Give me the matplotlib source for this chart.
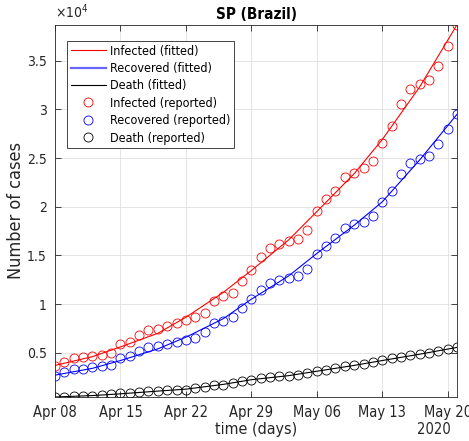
"""
SP (Brazil) - reported vs fitted cases
"""

import numpy as np
import matplotlib
matplotlib.use('Agg')
import matplotlib.pyplot as plt
import matplotlib.dates as mdates
from matplotlib.ticker import FuncFormatter

# daily reported data, Apr 08 .. May 21 2020
dates = np.arange('2020-04-08', '2020-05-22', dtype='datetime64[D]')

infected = [3657, 4070, 4411, 4515, 4618, 4793, 4969, 5897, 6105, 6828,
            7376, 7479, 7755, 8099, 8409, 8688, 9132, 10300, 10785, 11167,
            12407, 13471, 14845, 15713, 16157, 16467, 16643, 17603, 19597, 20773,
            21664, 23044, 23520, 23933, 24698, 26559, 28273, 30515, 32065, 32581,
            33025, 34472, 36538, 38676]
recovered = [2624, 3037, 3313, 3382, 3485, 3623, 3760, 4450, 4657, 5134,
             5547, 5723, 5895, 6060, 6308, 6515, 7166, 8024, 8306, 8650,
             9617, 10547, 11477, 12164, 12509, 12716, 12851, 13643, 15123, 15950,
             16743, 17777, 18222, 18464, 19084, 20464, 21664, 23357, 24494, 24937,
             25175, 26455, 28006, 29555]
death = [455, 455, 523, 558, 593, 627, 730, 833, 903, 1006,
         1074, 1074, 1143, 1178, 1212, 1419, 1522, 1660, 1729, 1867,
         2108, 2246, 2418, 2521, 2590, 2659, 2693, 2934, 3141, 3279,
         3451, 3658, 3761, 3864, 4071, 4243, 4416, 4588, 4760, 4829,
         4932, 5207, 5379, 5551]

# fitted curves
fit_dates = np.array(['2020-04-08', '2020-04-12', '2020-04-15', '2020-04-19', '2020-04-22',
                      '2020-04-26', '2020-04-29', '2020-05-03', '2020-05-06', '2020-05-10',
                      '2020-05-13', '2020-05-17', '2020-05-21'], dtype='datetime64[D]')
infected_fit = [3700, 4600, 5600, 7000, 8650, 11200, 13450, 16600, 19500, 23400, 26900, 32300, 38700]
recovered_fit = [2700, 3400, 4200, 5400, 6600, 8500, 10500, 12900, 15200, 18100, 20500, 24800, 29500]
death_fit = [455, 600, 780, 1060, 1260, 1750, 2230, 2650, 3100, 3700, 4200, 4850, 5550]

tick_dates = np.array(['2020-04-08', '2020-04-15', '2020-04-22', '2020-04-29',
                       '2020-05-06', '2020-05-13', '2020-05-20'], dtype='datetime64[D]')

plt.rcParams['font.family'] = ['DejaVu Sans']
plt.rcParams['font.stretch'] = 'condensed'

fig = plt.figure(figsize=(4.69, 4.41), dpi=100)
ax = fig.add_axes([0.1173, 0.0998, 0.8571, 0.8435])

ax.plot(fit_dates, infected_fit, color='r', linewidth=0.8, label='Infected (fitted)')
ax.plot(fit_dates, recovered_fit, color='b', linewidth=0.8, label='Recovered (fitted)')
ax.plot(fit_dates, death_fit, color='k', linewidth=0.8, label='Death (fitted)')
mk = dict(linestyle='none', marker='o', markersize=6.5, markerfacecolor='none', markeredgewidth=0.6)
ax.plot(dates, infected, markeredgecolor='r', label='Infected (reported)', **mk)
ax.plot(dates, recovered, markeredgecolor='b', label='Recovered (reported)', **mk)
ax.plot(dates, death, markeredgecolor='k', label='Death (reported)', **mk)

ax.set_xlim(dates[0], dates[-1])
ax.set_ylim(min(death), max(infected))

ax.set_xticks(tick_dates)
ax.xaxis.set_major_formatter(mdates.DateFormatter('%b %d'))
ax.set_yticks([5000, 10000, 15000, 20000, 25000, 30000, 35000])
ax.yaxis.set_major_formatter(FuncFormatter(lambda v, p: f'{v / 1e4:g}'))

ax.tick_params(direction='in', top=True, right=True, labelsize=10.5, colors='#262626',
               length=4, width=0.6)
ax.tick_params(axis='x', pad=6)
ax.tick_params(axis='y', pad=6, labelsize=10)
for s in ax.spines.values():
    s.set_color('#262626')
    s.set_linewidth(0.6)
ax.grid(color='#e0e0e0', linewidth=0.6)
ax.set_axisbelow(True)

ax.text(0.0, 1.012, r'$\times10^{4}$', transform=ax.transAxes, fontsize=10,
        color='#262626', ha='left', va='bottom')
ax.set_title('SP (Brazil)', fontsize=11, fontweight='bold', pad=4)
ax.set_ylabel('Number of cases', fontsize=13, color='#262626', labelpad=1)
ax.set_xlabel('time (days)', fontsize=11.5, color='#262626', labelpad=1)
ax.text(0.943, -0.0887, '2020', transform=ax.transAxes, fontsize=10.5,
        color='#262626', ha='center', va='center')

leg = ax.legend(loc='upper left', bbox_to_anchor=(0.03, 0.957), borderaxespad=0,
                fontsize=9, fancybox=False, framealpha=1, edgecolor='#262626',
                handlelength=2.8, labelspacing=0.35, borderpad=0.3, handletextpad=0.32)
leg.get_frame().set_linewidth(0.6)
leg.legend_handles[1].set_linewidth(1.6)
leg.legend_handles[1].set_alpha(0.6)

plt.savefig('out.png', dpi=100)
plt.close()
